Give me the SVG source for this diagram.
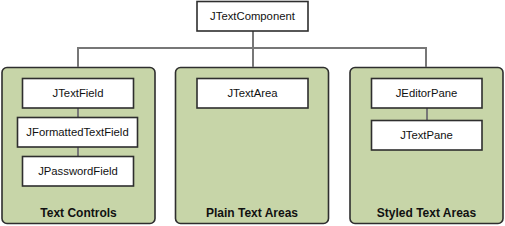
<svg xmlns="http://www.w3.org/2000/svg" width="505" height="226" viewBox="0 0 505 226">
<style>
.grp{fill:#c7d5a8;stroke:#2e2e2e;stroke-width:1.6}
.box{fill:#fff;stroke:#2e2e2e;stroke-width:1.6}
.lbl{font-family:"Liberation Sans",Arial,sans-serif;font-size:11.3px;fill:#111;text-anchor:middle}
.glbl{font-family:"Liberation Sans",Arial,sans-serif;font-size:12px;font-weight:bold;fill:#111;text-anchor:middle}
.con{stroke:#777;stroke-width:2;fill:none}
</style>
<rect width="505" height="226" fill="#fff"/>
<g id="textControls">
<rect class="grp" x="2" y="67.5" width="153" height="156" rx="5"/>
<text class="glbl" x="78.5" y="217">Text Controls</text>
</g>
<g id="plainTextAreas">
<rect class="grp" x="175.5" y="67.5" width="153" height="156" rx="5"/>
<text class="glbl" x="252" y="217">Plain Text Areas</text>
</g>
<g id="styledTextAreas">
<rect class="grp" x="350" y="67.5" width="153" height="156" rx="5"/>
<text class="glbl" x="426.5" y="217">Styled Text Areas</text>
</g>
<g id="connectors">
<path class="con" d="M253 31V48M78 67V48H426V67M253 48V67"/>
<path class="con" d="M78 108V117M78 147V156"/>
<path class="con" d="M427 108V120"/>
</g>
<g id="JTextComponent">
<rect class="box" x="197" y="1.5" width="111" height="29.5"/>
<text class="lbl" x="252.5" y="20">JTextComponent</text>
</g>
<g id="JTextField">
<rect class="box" x="22.5" y="78.5" width="111" height="29.5"/>
<text class="lbl" x="78" y="97">JTextField</text>
</g>
<g id="JFormattedTextField">
<rect class="box" x="17.5" y="117.5" width="120" height="29.5"/>
<text class="lbl" x="77.5" y="136">JFormattedTextField</text>
</g>
<g id="JPasswordField">
<rect class="box" x="22.5" y="156.5" width="111" height="29.5"/>
<text class="lbl" x="78" y="175">JPasswordField</text>
</g>
<g id="JTextArea">
<rect class="box" x="197" y="78.5" width="111" height="29.5"/>
<text class="lbl" x="252.5" y="97">JTextArea</text>
</g>
<g id="JEditorPane">
<rect class="box" x="371.5" y="78.5" width="110.5" height="29.5"/>
<text class="lbl" x="426.5" y="97">JEditorPane</text>
</g>
<g id="JTextPane">
<rect class="box" x="371.5" y="120.5" width="110.5" height="29.5"/>
<text class="lbl" x="426.5" y="139">JTextPane</text>
</g>
</svg>
